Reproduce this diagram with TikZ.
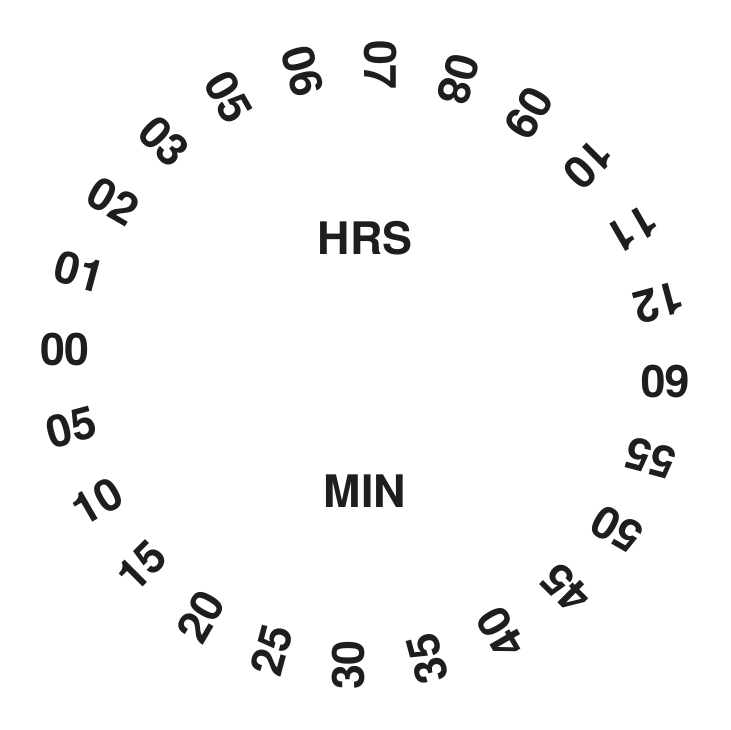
\documentclass[tikz,border=0pt]{standalone}
\usepackage{fontspec}
\setmainfont{TeX Gyre Heros}
\definecolor{inkdark}{HTML}{1E1E1E}

\begin{document}
\begin{tikzpicture}[font=\fontsize{25.5}{30}\selectfont\bfseries,
    dial/.style={text=inkdark, inner sep=0pt, anchor=base},
    head/.style={text=inkdark, inner sep=0pt, anchor=base}]
  \useasboundingbox (-7.3,-7.3) rectangle (7.3,7.3);
  % hours on the upper arc, minutes on the lower one
  \foreach \lab [count=\k from 0] in {00,01,02,03,05,06,07,08,09,10,11,12}
    \node[dial, rotate={-15*\k}] (h\k) at ({180-15*\k}:6) {\lab};
  \foreach \lab [count=\k from 0] in {60,55,50,45,40,35,30,25,20,15,10,05}
    \node[dial, rotate={-180-15*\k}] (m\k) at ({-15*\k}:6) {\lab};
  \node[head] (hrs) at (0,2.22) {HRS};
  \node[head] (min) at (0,-2.84) {MIN};
\end{tikzpicture}
\end{document}
